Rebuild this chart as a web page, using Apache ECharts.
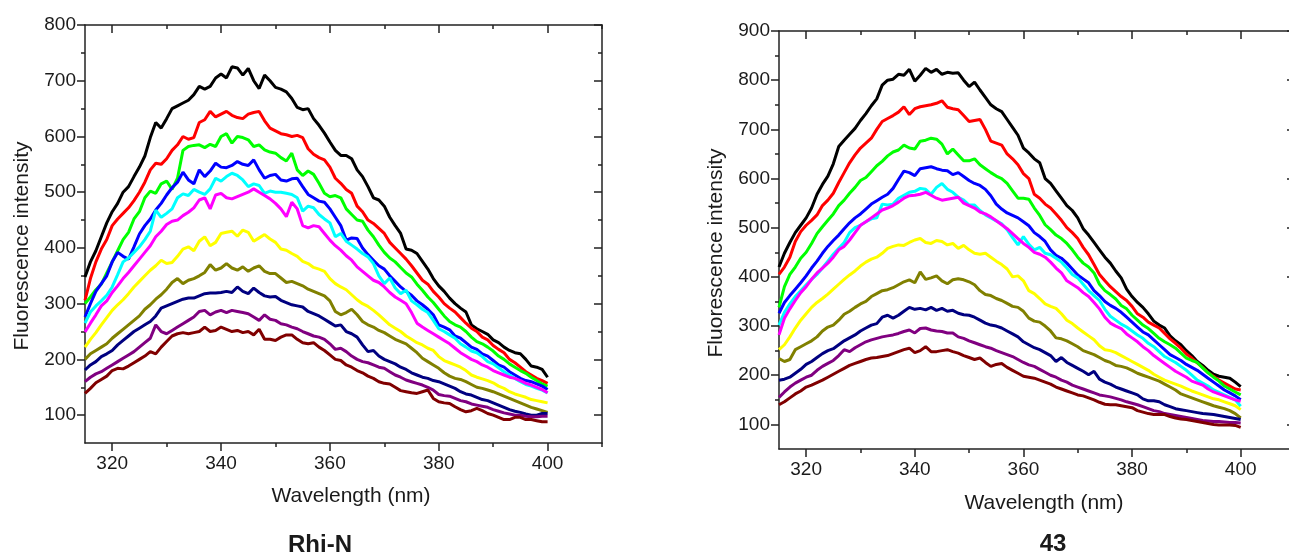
<!DOCTYPE html>
<html>
<head>
<meta charset="utf-8">
<script src="https://cdn.jsdelivr.net/npm/echarts@6/dist/echarts.min.js"></script>
<style>
html,body{margin:0;padding:0;background:#fff;}
#chart{width:1289px;height:556px;}
</style>
</head>
<body>
<div id="chart"></div>
<script>
// ---------- DATA ----------
var wavelength = [315,316,317,318,319,320,321,322,323,324,325,326,327,328,329,330,331,332,333,334,335,336,337,338,339,340,341,342,343,344,345,346,347,348,349,350,351,352,353,354,355,356,357,358,359,360,361,362,363,364,365,366,367,368,369,370,371,372,373,374,375,376,377,378,379,380,381,382,383,384,385,386,387,388,389,390,391,392,393,394,395,396,397,398,399,400];

var xMajorTicks = [320,340,360,380,400];
var xMinorTicks = [330,350,370,390,410];
var leftYMajorTicks = [100,200,300,400,500,600,700,800];
var leftYMinorTicks = [150,250,350,450,550,650,750];
var rightYMajorTicks = [100,200,300,400,500,600,700,800,900];
var rightYMinorTicks = [150,250,350,450,550,650,750,850];

var seriesColors = ['#000000','#ff0000','#00ff00','#0000ff','#00ffff','#ff00ff','#ffff00','#808000','#000080','#800080','#800000'];

// Left panel: Rhi-N
var rhiBlack = [348,375,395,420,445,465,480,500,510,528,545,565,598,625,615,632,650,655,660,665,675,690,685,690,705,712,705,725,723,710,722,700,686,710,700,688,685,680,668,652,648,650,632,620,606,590,575,566,566,560,540,528,510,490,486,475,455,440,426,398,396,390,376,362,345,332,322,310,300,292,285,262,255,250,245,235,230,222,216,212,210,200,188,186,182,168];
var rhiRed = [306,345,375,398,415,440,452,462,472,485,500,518,540,552,550,560,575,585,600,595,598,625,630,645,635,640,645,638,634,632,640,643,645,628,615,610,605,603,600,602,598,578,568,562,558,545,525,516,505,498,475,465,450,444,435,426,410,400,390,380,368,355,342,335,322,312,300,292,285,275,265,256,250,240,235,225,218,212,200,194,186,178,172,166,162,157];
var rhiGreen = [300,312,325,335,355,375,395,415,428,452,465,490,502,498,515,520,505,525,575,582,584,585,580,586,582,600,605,588,600,598,594,582,585,576,572,570,562,556,570,540,530,538,532,516,498,492,494,490,470,460,450,448,432,420,405,392,382,375,365,355,348,335,324,312,302,290,278,268,262,258,250,240,232,228,222,215,206,200,192,186,180,175,168,162,156,152];
var rhiBlue = [276,300,322,336,350,375,392,385,380,402,425,440,452,468,480,495,508,518,536,522,515,540,528,538,552,545,544,548,555,550,548,558,540,525,530,532,522,520,524,525,510,496,490,484,482,470,455,440,414,418,417,400,388,378,368,362,350,340,330,322,315,305,298,290,280,262,258,253,242,238,230,222,218,210,206,198,190,186,178,172,166,162,160,156,152,146];
var rhiCyan = [265,285,296,305,315,330,352,375,382,392,402,415,430,468,455,462,470,490,497,494,505,500,496,506,525,520,528,534,530,522,510,515,512,498,502,500,500,498,496,490,466,475,472,460,452,445,420,426,412,405,398,390,384,372,350,336,346,328,318,324,305,298,290,284,270,255,250,244,238,228,222,215,212,205,196,192,185,178,172,166,160,155,152,148,145,140];
var rhiMagenta = [249,265,280,296,305,320,332,345,356,368,380,392,404,420,430,442,448,450,458,464,472,486,490,470,495,498,490,488,492,496,500,506,500,494,488,480,470,456,482,470,440,436,440,438,426,414,404,396,386,378,366,358,350,342,338,330,320,312,306,300,284,265,258,252,246,240,234,228,220,212,206,200,196,190,186,180,176,172,168,166,162,157,154,150,146,140];
var rhiYellow = [222,236,248,262,275,288,298,307,318,330,340,350,360,368,378,372,374,385,398,402,395,412,420,404,410,426,428,430,421,432,428,412,418,424,416,410,398,396,390,385,376,372,365,362,358,345,336,330,325,316,307,300,295,288,280,271,262,256,250,242,236,230,226,220,216,205,198,194,190,186,180,172,168,165,162,158,152,148,142,138,135,132,128,126,124,122];
var rhiOlive = [200,210,216,222,228,238,246,254,262,270,278,290,298,308,316,326,338,345,336,342,345,350,356,370,360,364,372,364,360,366,358,364,368,358,354,354,346,338,340,336,332,326,322,318,314,305,286,280,284,290,280,268,262,258,252,248,242,236,232,228,220,212,202,196,190,184,176,170,166,164,160,155,150,148,145,142,138,134,130,126,122,118,114,111,108,105];
var rhiNavy = [181,190,196,205,210,216,226,234,242,250,256,262,268,278,292,296,300,304,308,310,310,314,318,319,319,320,322,320,330,322,318,328,320,314,312,313,306,302,298,296,294,286,282,278,272,266,260,262,250,246,240,226,214,216,206,200,196,192,186,182,176,172,168,166,162,160,156,152,148,142,138,136,132,128,126,122,118,114,110,107,105,102,100,100,103,103];
var rhiPurple = [160,168,174,178,184,190,196,202,208,214,222,230,238,262,250,246,252,258,264,270,276,286,288,280,285,288,284,288,286,284,282,276,270,280,272,270,264,262,258,255,250,246,242,240,236,228,218,220,214,206,200,196,194,190,186,184,178,172,168,163,160,157,154,150,145,137,135,134,130,126,124,120,118,116,114,110,107,104,102,100,100,98,97,97,98,98];
var rhiMaroon = [139,148,158,164,170,180,184,183,188,194,200,206,214,210,222,232,242,246,248,246,248,250,258,250,252,258,254,250,252,248,250,244,254,236,236,234,240,244,244,236,230,228,230,222,216,208,200,198,190,186,180,176,170,166,160,157,156,150,144,142,140,139,142,145,130,124,122,121,115,110,106,108,112,108,103,100,96,92,92,96,96,92,92,90,88,88];

// Right panel: 43
var c43Black = [420,448,470,490,505,520,540,568,588,605,630,665,678,690,702,718,732,748,762,790,800,802,812,810,822,798,810,824,816,822,812,816,814,815,800,787,796,780,765,750,742,736,720,704,688,662,652,640,632,600,590,575,560,545,535,520,498,485,470,455,440,428,412,398,375,360,348,338,325,310,302,296,280,270,262,250,240,228,220,210,202,198,196,194,186,177];
var c43Red = [405,420,440,472,492,505,515,526,545,556,570,592,612,632,648,662,672,682,700,716,722,728,735,746,730,742,746,748,750,753,758,745,742,740,728,716,718,720,700,676,672,668,650,640,628,610,600,568,560,548,540,528,515,500,490,478,460,445,425,405,392,380,370,360,352,340,325,318,308,302,296,285,274,265,255,243,235,225,216,205,198,190,184,178,172,170];
var c43Green = [338,380,405,420,438,450,468,488,502,515,528,545,556,570,582,596,602,614,626,635,646,654,658,668,662,660,676,678,682,680,670,650,660,648,636,636,640,628,620,612,605,600,590,575,560,560,558,540,525,506,496,485,478,468,455,440,428,420,408,385,372,364,355,342,335,322,312,302,295,285,275,268,262,255,245,235,230,226,215,205,196,188,178,172,166,160];
var c43Blue = [326,348,362,375,388,402,418,432,448,462,474,485,498,510,520,528,538,548,555,562,568,580,598,615,612,606,620,622,624,620,617,616,608,612,604,596,590,586,578,565,548,538,530,525,520,512,504,490,482,472,455,444,438,428,416,404,396,388,372,362,350,342,336,328,318,308,298,288,282,272,262,252,242,236,230,222,216,210,202,194,186,178,170,164,158,150];
var c43Cyan = [302,328,345,360,372,384,395,405,418,432,446,458,470,490,500,505,512,518,520,548,546,548,560,566,572,574,580,578,568,582,590,578,572,562,556,546,546,535,526,520,514,508,496,480,465,482,466,455,460,448,445,438,430,418,405,398,385,372,362,352,334,320,312,304,298,290,282,275,265,258,248,238,232,226,218,210,200,190,184,178,170,165,160,155,150,137];
var c43Magenta = [282,316,335,352,368,380,395,408,418,428,440,455,462,475,490,505,512,520,528,536,540,545,552,560,565,566,568,572,566,560,556,558,560,562,550,545,540,532,528,522,514,506,498,488,478,468,460,450,446,440,430,418,408,392,385,378,368,360,348,335,318,306,300,295,284,276,268,258,250,240,232,224,216,208,202,196,188,184,180,172,166,162,158,154,150,147];
var c43Yellow = [252,262,278,296,312,325,338,348,356,365,375,385,395,404,412,422,430,436,440,448,458,462,465,464,470,475,478,470,468,474,472,465,468,458,464,455,448,446,448,440,432,425,416,400,402,392,372,366,356,345,340,336,325,312,305,296,288,280,272,260,252,250,246,240,234,228,222,216,210,202,196,190,186,182,178,173,168,164,160,156,152,150,146,142,138,130];
var c43Olive = [234,228,232,252,258,264,270,278,290,298,302,312,324,330,338,345,350,360,366,372,374,378,384,390,394,388,410,395,398,402,392,386,394,396,394,390,384,372,364,362,356,352,346,340,338,330,316,310,308,300,290,276,274,270,264,258,250,246,242,236,230,226,220,218,215,210,204,200,196,192,188,182,176,170,162,158,154,150,146,142,138,135,132,128,122,113];
var c43Navy = [190,192,196,204,212,222,228,236,244,250,254,262,270,276,282,290,296,302,305,318,322,316,322,330,338,334,336,333,338,332,336,330,332,326,323,322,318,312,306,302,300,296,290,284,278,268,262,256,252,246,240,228,236,226,220,214,208,201,208,192,186,182,176,172,168,164,160,152,148,148,146,140,136,132,130,128,126,124,122,121,120,118,116,114,112,110];
var c43Purple = [155,166,176,184,190,196,200,210,218,224,230,240,252,248,256,262,268,272,275,278,280,282,285,289,292,286,295,296,292,290,289,286,286,278,275,270,266,262,258,255,250,246,242,238,232,226,221,218,212,206,200,196,190,186,180,176,172,168,164,160,158,156,153,150,146,143,140,136,132,128,126,122,120,118,116,114,112,110,108,107,106,106,105,104,104,103];
var c43Maroon = [140,146,154,162,168,176,180,185,190,196,202,208,214,220,224,228,232,235,236,238,240,244,248,252,255,246,250,258,248,248,250,252,248,245,240,236,232,235,226,218,222,224,216,210,204,198,196,194,190,186,182,176,172,168,164,160,158,154,150,145,141,140,140,138,136,134,128,125,122,120,120,120,116,113,111,110,108,106,104,102,100,99,99,99,98,94];

var rhiSeries = [rhiBlack,rhiRed,rhiGreen,rhiBlue,rhiCyan,rhiMagenta,rhiYellow,rhiOlive,rhiNavy,rhiPurple,rhiMaroon];
var c43Series = [c43Black,c43Red,c43Green,c43Blue,c43Cyan,c43Magenta,c43Yellow,c43Olive,c43Navy,c43Purple,c43Maroon];

// ---------- CHART ----------
var AXIS_COLOR = '#222';
var TEXT_COLOR = '#1a1a1a';
var FONT = 'Liberation Sans, Arial, sans-serif';

function pairs(vals){
  var out = [];
  for (var i = 0; i < wavelength.length; i++) out.push([wavelength[i], vals[i]]);
  return out;
}

function xAxes(gridIndex){
  var base = {gridIndex: gridIndex, type: 'value', min: 315, max: 410, splitLine: {show: false},
    axisLine: {onZero: false, lineStyle: {color: AXIS_COLOR, width: 1.5}}};
  return [
    Object.assign({}, base, {position: 'bottom',
      axisTick: {show: true, inside: false, length: 8, customValues: xMajorTicks, lineStyle: {color: AXIS_COLOR, width: 1.5}},
      axisLabel: {show: true, customValues: xMajorTicks, margin: 11, fontSize: 19, color: TEXT_COLOR, fontFamily: FONT}}),
    Object.assign({}, base, {position: 'bottom', axisLine: {show: false, onZero: false},
      axisTick: {show: true, inside: false, length: 4, customValues: xMinorTicks, lineStyle: {color: AXIS_COLOR, width: 1.5}},
      axisLabel: {show: false}}),
    Object.assign({}, base, {position: 'top',
      axisTick: {show: true, inside: true, length: 8, customValues: xMajorTicks, lineStyle: {color: AXIS_COLOR, width: 1.5}},
      axisLabel: {show: false}}),
    Object.assign({}, base, {position: 'top', axisLine: {show: false, onZero: false},
      axisTick: {show: true, inside: true, length: 4, customValues: xMinorTicks, lineStyle: {color: AXIS_COLOR, width: 1.5}},
      axisLabel: {show: false}})
  ];
}

function yAxes(gridIndex, maxV, major, minor){
  var base = {gridIndex: gridIndex, type: 'value', min: 50, max: maxV, splitLine: {show: false},
    axisLine: {show: true, onZero: false, lineStyle: {color: AXIS_COLOR, width: 1.5}}};
  return [
    Object.assign({}, base, {position: 'left',
      axisTick: {show: true, inside: false, length: 8, customValues: major, lineStyle: {color: AXIS_COLOR, width: 1.5}},
      axisLabel: {show: true, customValues: major, margin: 9, fontSize: 19, color: TEXT_COLOR, fontFamily: FONT}}),
    Object.assign({}, base, {position: 'left', axisLine: {show: false, onZero: false},
      axisTick: {show: true, inside: false, length: 4, customValues: minor, lineStyle: {color: AXIS_COLOR, width: 1.5}},
      axisLabel: {show: false}}),
    Object.assign({}, base, {position: 'right',
      axisTick: {show: true, inside: true, length: 8, customValues: major, lineStyle: {color: AXIS_COLOR, width: 1.5}},
      axisLabel: {show: false}}),
    Object.assign({}, base, {position: 'right', axisLine: {show: false, onZero: false},
      axisTick: {show: true, inside: true, length: 4, customValues: minor, lineStyle: {color: AXIS_COLOR, width: 1.5}},
      axisLabel: {show: false}})
  ];
}

var series = [];
rhiSeries.forEach(function(vals, i){
  series.push({type: 'line', xAxisIndex: 0, yAxisIndex: 0, data: pairs(vals), showSymbol: false, symbol: 'none',
    lineStyle: {color: seriesColors[i], width: 3}, itemStyle: {color: seriesColors[i]}, animation: false, silent: true});
});
c43Series.forEach(function(vals, i){
  series.push({type: 'line', xAxisIndex: 4, yAxisIndex: 4, data: pairs(vals), showSymbol: false, symbol: 'none',
    lineStyle: {color: seriesColors[i], width: 3}, itemStyle: {color: seriesColors[i]}, animation: false, silent: true});
});

function label(text, x, y, size, bold, rot){
  return {type: 'text', x: x, y: y, rotation: rot || 0, silent: true,
    style: {text: text, x: 0, y: 0, fill: TEXT_COLOR,
      font: (bold ? 'bold ' : '') + size + 'px ' + FONT,
      textAlign: 'center', textVerticalAlign: 'middle', align: 'center', verticalAlign: 'middle'}};
}

var option = {
  backgroundColor: '#ffffff',
  animation: false,
  grid: [
    {left: 85, top: 25, width: 517, height: 418, containLabel: false, outerBoundsMode: 'none'},
    {left: 779, top: 31, width: 516, height: 418, containLabel: false, outerBoundsMode: 'none'}
  ],
  xAxis: xAxes(0).concat(xAxes(1)),
  yAxis: yAxes(0, 800, leftYMajorTicks, leftYMinorTicks).concat(yAxes(1, 900, rightYMajorTicks, rightYMinorTicks)),
  series: series,
  graphic: [
    label('Fluorescence intensity', 22, 246, 21, false, Math.PI / 2),
    label('Fluorescence intensity', 716, 253, 21, false, Math.PI / 2),
    label('Wavelength (nm)', 351, 496, 21, false, 0),
    label('Wavelength (nm)', 1044, 503, 21, false, 0),
    label('Rhi-N', 320, 545, 24, true, 0),
    label('43', 1053, 544, 24, true, 0)
  ]
};

var chart = echarts.init(document.getElementById('chart'), null, {renderer: 'canvas', width: 1289, height: 556});
chart.setOption(option);
</script>
</body>
</html>
